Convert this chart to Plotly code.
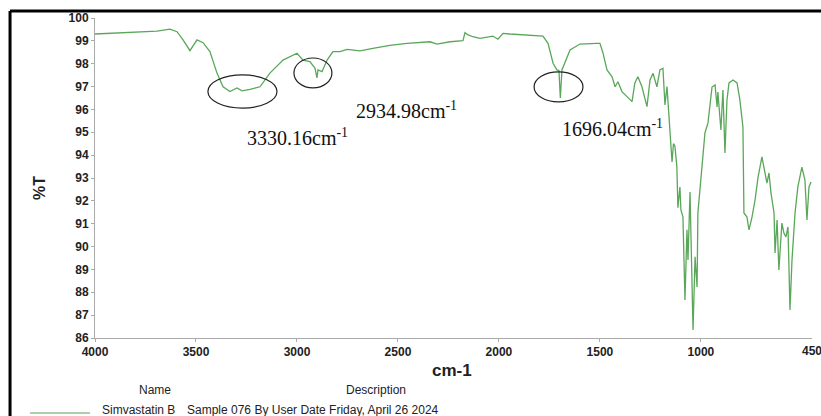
import plotly.graph_objects as go

# FTIR spectrum of Simvastatin B
wavenumber = [4000, 3861, 3693, 3629, 3594, 3564, 3530, 3495, 3465, 3431, 3396, 3366, 3332,
              3297, 3272, 3233, 3183, 3134, 3069, 3000, 2970, 2936, 2911, 2901, 2896, 2876,
              2851, 2822, 2787, 2752, 2688, 2624, 2540, 2455, 2400, 2341, 2307, 2242, 2178,
              2168, 2153, 2129, 2094, 2059, 2030, 2005, 1980, 1945, 1861, 1782, 1757, 1732,
              1713, 1703, 1696, 1688, 1648, 1599, 1515, 1500, 1485, 1465, 1440, 1425, 1411,
              1391, 1366, 1341, 1327, 1312, 1292, 1267, 1252, 1237, 1218, 1203, 1188, 1178,
              1168, 1158, 1153, 1143, 1136, 1129, 1119, 1114, 1104, 1099, 1089, 1079, 1069,
              1064, 1054, 1044, 1039, 1029, 1019, 1015, 995, 980, 965, 945, 930, 920, 916,
              901, 891, 881, 871, 861, 841, 821, 807, 792, 787, 772, 762, 747, 732, 717,
              698, 683, 673, 663, 653, 638, 633, 623, 614, 599, 589, 579, 569, 559, 549,
              534, 520, 500, 485, 475, 465, 455]
transmittance = [99.30, 99.36, 99.43, 99.51, 99.40, 99.04, 98.57, 99.04, 98.92, 98.53, 97.59,
                 96.99, 96.78, 96.94, 96.81, 96.88, 96.99, 97.59, 98.16, 98.46, 98.16, 98.09,
                 97.81, 97.38, 97.73, 97.65, 98.16, 98.53, 98.53, 98.63, 98.56, 98.67, 98.80,
                 98.89, 98.92, 98.96, 98.86, 98.96, 99.01, 99.36, 99.26, 99.18, 99.11, 99.16,
                 99.21, 99.07, 99.33, 99.30, 99.26, 99.21, 98.89, 98.02, 97.73, 97.70, 96.50,
                 97.73, 98.60, 98.86, 98.89, 98.89, 98.47, 97.73, 97.43, 96.99, 97.21, 96.78,
                 96.56, 96.34, 97.16, 97.43, 96.99, 96.12, 97.29, 97.58, 96.99, 97.73, 97.80,
                 96.20, 97.00, 95.50, 94.70, 93.70, 94.50, 94.40, 93.50, 91.70, 92.60, 91.60,
                 91.30, 87.66, 90.73, 89.41, 92.39, 89.11, 86.35, 89.55, 88.23, 91.47, 93.35,
                 94.97, 95.41, 96.98, 97.07, 96.11, 96.76, 95.10, 96.85, 94.09, 96.41, 97.16,
                 97.29, 97.16, 96.41, 95.23, 91.47, 91.29, 90.73, 91.29, 92.04, 93.04, 93.92,
                 93.22, 92.78, 93.22, 92.34, 91.47, 89.72, 91.16, 88.98, 91.03, 90.59, 90.42,
                 90.86, 87.23, 89.41, 91.47, 92.61, 93.48, 92.91, 91.16, 92.61, 92.83]

x_ticks = [4000, 3500, 3000, 2500, 2000, 1500, 1000]
x_last_tick = 450
y_ticks = list(range(86, 101))

peak_labels = ["3330.16cm<sup>-1</sup>", "2934.98cm<sup>-1</sup>", "1696.04cm<sup>-1</sup>"]
peak_label_x = [2995, 2460, 1440]
peak_label_y = [94.8, 95.98, 95.19]
ellipse_x = [(3441, 3099), (3015, 2827), (1826, 1584)]
ellipse_y = [(97.51, 96.06), (98.25, 96.94), (97.64, 96.33)]

green = "#5aa75a"

fig = go.Figure()
fig.add_trace(go.Scatter(x=wavenumber, y=transmittance, mode="lines",
                         line=dict(color=green, width=1.3), showlegend=False))

for (x0, x1), (y0, y1) in zip(ellipse_x, ellipse_y):
    fig.add_shape(type="circle", xref="x", yref="y", x0=x0, x1=x1, y0=y0, y1=y1,
                  line=dict(color="#222", width=1.2))

for t, xx, yy in zip(peak_labels, peak_label_x, peak_label_y):
    fig.add_annotation(x=xx, y=yy, xref="x", yref="y", text=t, showarrow=False,
                       font=dict(family="Liberation Serif, Times New Roman, serif", size=20, color="#111"),
                       xanchor="center", yanchor="middle")

# outer frame (top and left edges visible in the image)
fig.add_shape(type="line", xref="paper", yref="paper", x0=-0.1185, x1=1.1, y0=1.022, y1=1.022,
              line=dict(color="black", width=3))
fig.add_shape(type="line", xref="paper", yref="paper", x0=-0.1185, x1=-0.1185, y0=1.022, y1=-0.35,
              line=dict(color="black", width=3))

lab = dict(family="Liberation Sans, Arial, sans-serif", color="#222")
# last x tick label (partly cut by the image edge)
fig.add_annotation(x=x_last_tick, y=0, xref="x", yref="paper", yshift=-4, text=str(x_last_tick),
                   xanchor="center", yanchor="top", showarrow=False,
                   font=dict(size=12, weight="bold", **lab))
fig.add_annotation(x=-0.0767, y=0.469, xref="paper", yref="paper", text="<b>%T</b>", textangle=-90,
                   xanchor="center", yanchor="middle", showarrow=False, font=dict(size=16, **lab))
fig.add_annotation(x=0.498, y=-0.10, xref="paper", yref="paper", text="<b>cm-1</b>",
                   xanchor="center", yanchor="middle", showarrow=False, font=dict(size=17, **lab))
fig.add_annotation(x=0.0837, y=-0.1625, xref="paper", yref="paper", text="Name",
                   xanchor="center", yanchor="middle", showarrow=False, font=dict(size=12, **lab))
fig.add_annotation(x=0.392, y=-0.1625, xref="paper", yref="paper", text="Description",
                   xanchor="center", yanchor="middle", showarrow=False, font=dict(size=12, **lab))
fig.add_annotation(x=0.007, y=-0.225, xref="paper", yref="paper", text="Simvastatin B",
                   xanchor="left", yanchor="middle", showarrow=False, font=dict(size=12, **lab))
fig.add_annotation(x=0.126, y=-0.225, xref="paper", yref="paper",
                   text="Sample 076 By User Date Friday, April 26 2024",
                   xanchor="left", yanchor="middle", showarrow=False, font=dict(size=12, **lab))
fig.add_shape(type="line", xref="paper", yref="paper", x0=-0.0907, x1=-0.007, y0=-0.234, y1=-0.234,
              line=dict(color="#8cc08c", width=1.5))

fig.update_layout(
    width=821, height=416,
    margin=dict(l=95, r=9, t=18, b=78),
    paper_bgcolor="white", plot_bgcolor="white",
    xaxis=dict(range=[4000, 450], tickvals=x_ticks, showgrid=False, zeroline=False,
               showline=True, linecolor="#aaa", linewidth=1, ticks="outside", ticklen=3,
               tickcolor="#aaa", tickfont=dict(size=12, weight="bold", **lab)),
    yaxis=dict(range=[86, 100], tickvals=y_ticks, showgrid=False, zeroline=False,
               showline=True, linecolor="#aaa", linewidth=1, ticks="outside", ticklen=3,
               tickcolor="#aaa", tickfont=dict(size=12, weight="bold", **lab)),
)

fig.write_html("out.html")
